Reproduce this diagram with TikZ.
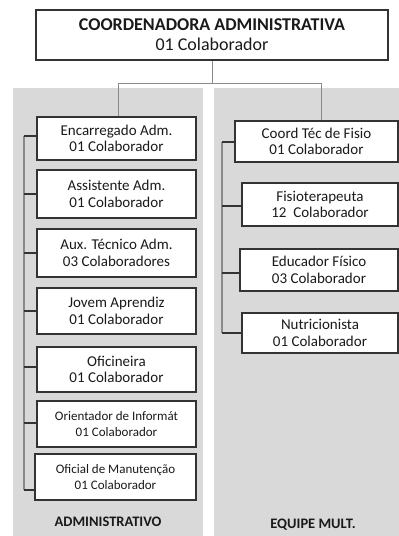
\documentclass[tikz,border=0pt]{standalone}
\usepackage{fontspec}
\setmainfont{Carlito}
\definecolor{panel}{HTML}{D9D9D9}
\definecolor{boxline}{HTML}{333333}
\definecolor{trunk}{HTML}{8A8A8A}
\definecolor{txt}{HTML}{1A1A1A}
\begin{document}
\begin{tikzpicture}[x=1pt,y=-1pt,
  orgbox/.style={draw=boxline, line width=1.2pt, fill=white, inner sep=0pt, align=center, text=txt},
  bigtxt/.style={font=\fontsize{18}{20}\selectfont},
  midtxt/.style={font=\fontsize{15}{16.5}\selectfont},
  smalltxt/.style={font=\fontsize{13}{16}\selectfont},
  grouplabel/.style={font=\fontsize{14.5}{16}\selectfont\bfseries, text=txt, inner sep=0pt},
  trunkline/.style={draw=trunk, line width=1.2pt},
  stubline/.style={draw=boxline, line width=1.2pt},
  topline/.style={draw=trunk, line width=1pt}]
\useasboundingbox (0,0) rectangle (399,536);
\fill[white] (0,0) rectangle (399,536);
% panels
\fill[panel] (13,88) rectangle (203,536);
\fill[panel] (214,88) rectangle (399,536);

% top box
\node[orgbox, bigtxt, minimum width=352pt, minimum height=50pt] (top) at (212,35)
  {\textbf{COORDENADORA ADMINISTRATIVA}\\01 Colaborador};

% left boxes
\node[orgbox, midtxt, minimum width=159pt, minimum height=43pt] (b1) at (116.5,138.5) {Encarregado Adm.\\01 Colaborador};
\node[orgbox, midtxt, minimum width=159pt, minimum height=48pt] (b2) at (116.5,194) {Assistente Adm.\\01 Colaborador};
\node[orgbox, midtxt, minimum width=159pt, minimum height=48pt] (b3) at (116.5,253) {Aux. Técnico Adm.\\03 Colaboradores};
\node[orgbox, midtxt, minimum width=159pt, minimum height=46pt] (b4) at (116.5,311) {Jovem Aprendiz\\01 Colaborador};
\node[orgbox, midtxt, minimum width=159pt, minimum height=45pt] (b5) at (116.5,369.5) {Oficineira\\01 Colaborador};
\node[orgbox, smalltxt, minimum width=159pt, minimum height=46pt] (b6) at (116.5,424) {Orientador de Informát\\01 Colaborador};
\node[orgbox, smalltxt, minimum width=161pt, minimum height=46pt] (b7) at (115.5,477) {Oficial de Manutenção\\01 Colaborador};
\node[grouplabel] (admlabel) at (108,522) {ADMINISTRATIVO};

% right boxes
\node[orgbox, midtxt, minimum width=163pt, minimum height=41pt] (r1) at (316.5,141.5) {Coord Téc de Fisio\\01 Colaborador};
\node[orgbox, midtxt, minimum width=156pt, minimum height=43pt] (r2) at (320,204.5) {Fisioterapeuta\\12 \ Colaborador};
\node[orgbox, midtxt, minimum width=158pt, minimum height=42pt] (r3) at (319,270) {Educador Físico\\03 Colaborador};
\node[orgbox, midtxt, minimum width=156pt, minimum height=40pt] (r4) at (320,333) {Nutricionista\\01 Colaborador};
\node[grouplabel] (eqlabel) at (313,525) {EQUIPE MULT.};

% top connectors
\coordinate (hl) at (118,83);
\coordinate (hr) at (321,83);
\draw[topline] (top.south) -- (top.south |- hl);
\draw[topline] (hl) -- (hr);
\draw[topline] (hl) -- (hl |- b1.north);
\draw[topline] (hr) -- (hr |- r1.north);

% left trunk
\coordinate (l1) at (24,136);
\coordinate (l2) at (24,194);
\coordinate (l3) at (24,253);
\coordinate (l4) at (24,311);
\coordinate (l5) at (24,367);
\coordinate (l6) at (24,423);
\coordinate (l7) at (24,490);
\draw[trunkline] (l1) -- (l7);
\foreach \i in {1,...,7} {\draw[stubline] (l\i) -- (l\i -| b\i.west);}

% right trunk
\coordinate (q1) at (222,142);
\coordinate (q2) at (222,206);
\coordinate (q3) at (222,273);
\coordinate (q4) at (222,333);
\draw[trunkline] (q1) -- (q4);
\foreach \i in {1,...,4} {\draw[stubline] (q\i) -- (q\i -| r\i.west);}
\end{tikzpicture}
\end{document}
